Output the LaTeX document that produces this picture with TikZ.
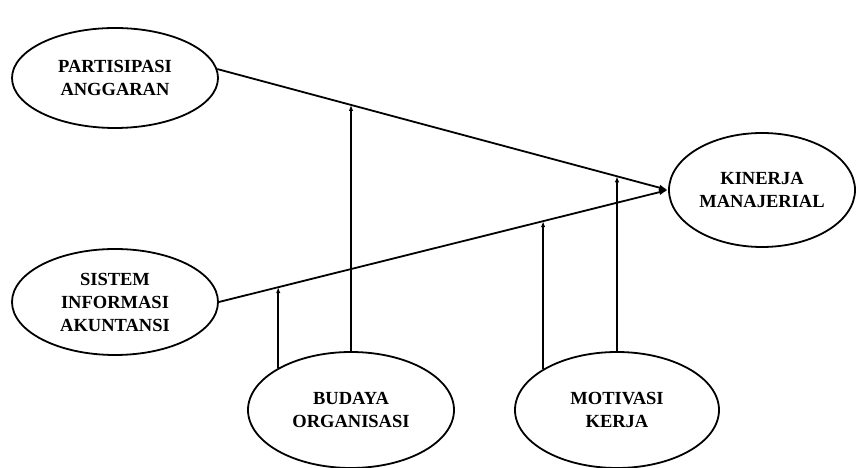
\documentclass[tikz,border=0pt]{standalone}
\usepackage{fontspec}
\setmainfont{Liberation Serif}
\usetikzlibrary{shapes.geometric,arrows.meta,intersections}

\begin{document}
\begin{tikzpicture}[x=1pt, y=1pt, line width=1.8pt,
    every node/.style={align=center, font=\bfseries\fontsize{18.5}{23}\selectfont},
    var/.style={draw, ellipse, inner sep=0pt},
    mainarr/.style={-{Latex[length=9pt,width=6pt]}},
    modarr/.style={-{Latex[length=6pt,width=4.5pt]}}]
  \useasboundingbox (0,0) rectangle (860,468);

  \node[var, minimum width=206, minimum height=100] (pa) at (115,390) {PARTISIPASI\\ANGGARAN};
  \node[var, minimum width=206, minimum height=106] (sia) at (115,166) {SISTEM\\INFORMASI\\AKUNTANSI};
  \node[var, minimum width=186, minimum height=114] (km) at (762,278) {KINERJA\\MANAJERIAL};
  \node[var, minimum width=206, minimum height=116] (bo) at (351,58) {BUDAYA\\ORGANISASI};
  \node[var, minimum width=204, minimum height=116] (mk) at (617,58) {MOTIVASI\\KERJA};

  \draw[mainarr, name path=pakm] (pa.5) -- (km.west);
  \draw[mainarr, name path=siakm] (sia.east) -- (km.west);

  % moderating paths
  \path[name path=up1] (bo.150) -- ++(0,300);
  \path[name path=up2] (bo.north) -- ++(0,400);
  \path[name path=up3] (mk.151) -- ++(0,300);
  \path[name path=up4] (mk.north) -- ++(0,400);
  \path[name intersections={of=up1 and siakm, by=hit1}];
  \path[name intersections={of=up2 and pakm, by=hit2}];
  \path[name intersections={of=up3 and siakm, by=hit3}];
  \path[name intersections={of=up4 and pakm, by=hit4}];
  \draw[modarr] (bo.150) -- (hit1);
  \draw[modarr] (bo.north) -- (hit2);
  \draw[modarr] (mk.151) -- (hit3);
  \draw[modarr] (mk.north) -- (hit4);
\end{tikzpicture}
\end{document}
